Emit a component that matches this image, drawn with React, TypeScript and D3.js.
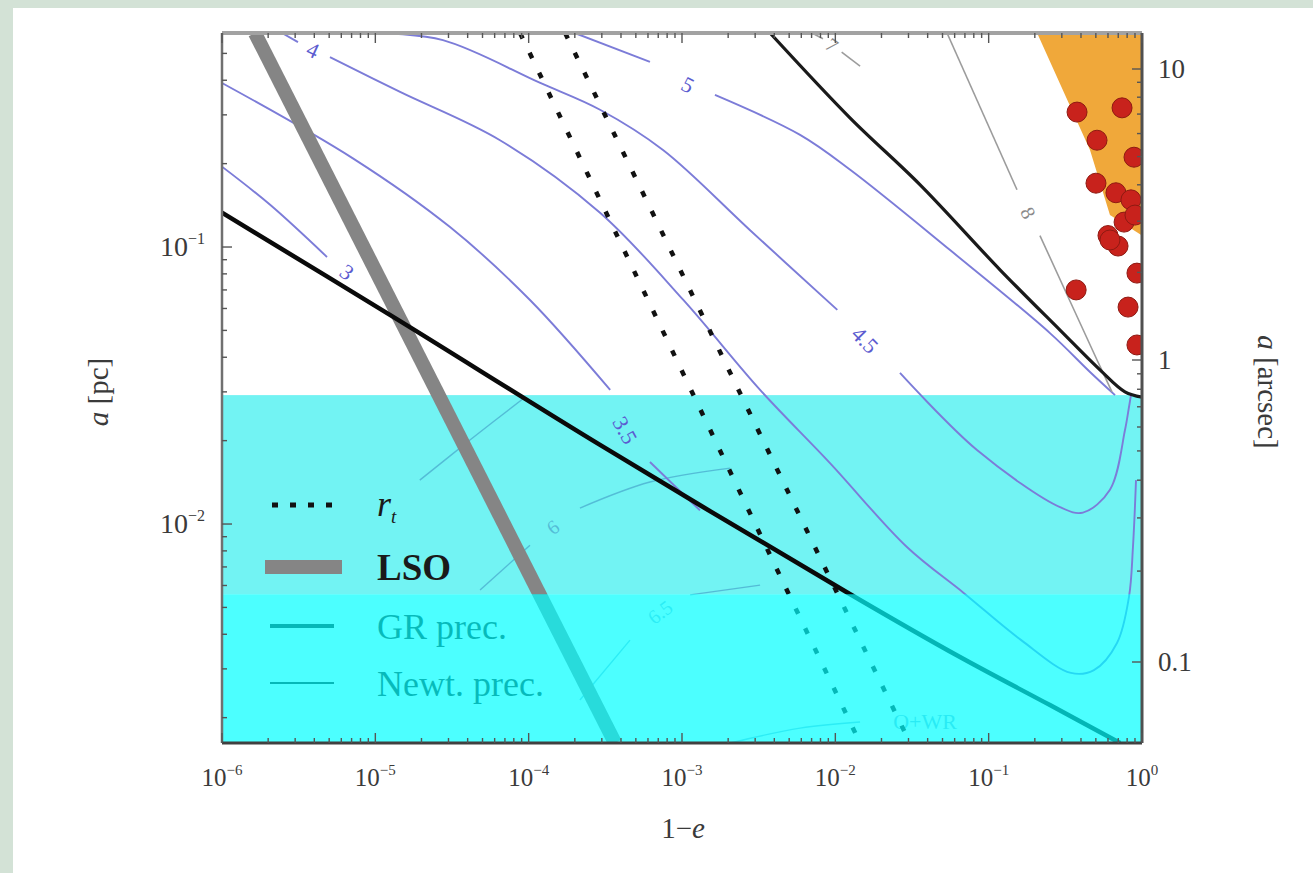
import React from "react";
import * as d3 from "d3";

type P = [number, number];

const W = 1313;
const H = 873;

// ---------- axes ----------
const xDomain: P = [1e-6, 1];
const yDomain: P = [0.00162, 0.5924];
const xTickExps = [-6, -5, -4, -3, -2, -1, 0];
const yTickExps = [-1, -2];
const arcsecTicks = [10, 1, 0.1];
const arcsecTickLabels = ["10", "1", "0.1"];
const arcsecMinor = [0.2, 0.3, 0.4, 0.5, 0.6, 0.7, 0.8, 0.9, 2, 3, 4, 5, 6, 7, 8, 9];

// ---------- shaded bands (a in pc) ----------
const outerBandTop = 0.0292;
const innerBandTop = 0.00558;

// ---------- curves: [1-e, a(pc)] ----------
const lso: P[] = [[1.64e-6, 0.5924], [3.66e-4, 0.00162]];
const rtLeft: P[] = [[8.79e-5, 0.5924], [1.45e-2, 0.00162]];
const rtRight: P[] = [[1.73e-4, 0.5924], [3.07e-2, 0.00162]];

const grLower: P[] = [
  [1e-6, 0.133], [1.34e-5, 0.0555], [2.92e-4, 0.0193], [1.25e-2, 0.00558],
  [6.5e-2, 0.00331], [0.251, 0.00222], [0.72, 0.00162],
];
const grUpper: P[] = [
  [3.75e-3, 0.5924], [1.25e-2, 0.292], [3.56e-2, 0.168], [0.119, 0.0826],
  [0.292, 0.0501], [0.532, 0.036], [0.774, 0.03], [1, 0.0287],
];

// blue contours (split at their labels)
const c3A: P[] = [[1e-6, 0.195], [2.06e-6, 0.142], [4.84e-6, 0.092]];
const c3B: P[] = [];
const c3Label: P = [6.53e-6, 0.0812];

const c35A: P[] = [[1e-6, 0.391], [7.14e-6, 0.209], [3.07e-5, 0.118], [1.02e-4, 0.0644], [3.4e-4, 0.0305]];
const c35B: P[] = [[6.18e-4, 0.01675], [1.31e-3, 0.0112]];
const c35Label: P = [4.25e-4, 0.0218];

const c4A: P[] = [[2.46e-6, 0.5924], [3.13e-6, 0.549]];
const c4B: P[] = [
  [5.06e-6, 0.485], [1.45e-5, 0.363], [6.5e-5, 0.243], [2.92e-4, 0.133], [1.02e-3, 0.0644],
  [3.23e-3, 0.0305], [9.23e-3, 0.0166], [2.93e-2, 0.00826], [6.9e-2, 0.00563], [0.163, 0.00381],
  [0.344, 0.0029], [0.486, 0.00297], [0.687, 0.00372], [0.822, 0.00545], [0.873, 0.00826], [0.914, 0.0144],
];
const c4Label: P = [3.92e-6, 0.514];

const c45A: P[] = [
  [1.07e-5, 0.5924], [2.76e-5, 0.558], [1.19e-4, 0.391], [2.92e-4, 0.313], [7.52e-4, 0.224],
  [2.78e-3, 0.115], [1.03e-2, 0.0593],
];
const c45B: P[] = [
  [2.64e-2, 0.0351], [8.39e-2, 0.0185], [0.292, 0.0115], [0.412, 0.011], [0.618, 0.0133],
  [0.774, 0.0218], [0.822, 0.0264], [0.847, 0.0292],
];
const c45Label: P = [1.56e-2, 0.0462];

const c5A: P[] = [[2.0e-4, 0.5924], [6.18e-4, 0.466]];
const c5B: P[] = [
  [1.64e-3, 0.354], [5.89e-3, 0.254], [1.25e-2, 0.19], [5.6e-2, 0.0975], [0.251, 0.0489],
  [0.458, 0.0354], [0.667, 0.0292],
];
const c5Label: P = [1.09e-3, 0.385];

// gray contours
const g8A: P[] = [[5.35e-2, 0.5924], [0.153, 0.161]];
const g8B: P[] = [[0.216, 0.11], [0.509, 0.0391], [0.637, 0.03]];
const g8Label: P = [0.181, 0.133];

const g7A: P[] = [[7.05e-3, 0.5924], [8.3e-3, 0.565]];
const g7B: P[] = [[1.1e-2, 0.505], [1.45e-2, 0.45]];
const g7Label: P = [9.51e-3, 0.536];

// faint contours inside the shaded bands
const f1: P[] = [[1.95e-5, 0.0144], [4.14e-5, 0.0201], [9.46e-5, 0.0287]];
const f6A: P[] = [[4.82e-5, 0.00578], [1.02e-4, 0.00839]];
const f6B: P[] = [[2.16e-4, 0.01142], [6.18e-4, 0.01418], [2.06e-3, 0.01592]];
const f6Label: P = [1.44e-4, 0.00975];
const f65A: P[] = [[2.16e-4, 0.002317], [4.58e-4, 0.00381]];
const f65B: P[] = [[1.13e-3, 0.00555], [3.23e-3, 0.00602]];
const f65Label: P = [7.2e-4, 0.00481];
const fOWR: P[] = [[2.06e-3, 0.00162], [5.89e-3, 0.001834], [1.45e-2, 0.00193]];
const fOWRLabel: P = [0.0385, 0.00193];

// observed stars region and points
const orangeRegion: P[] = [
  [0.207, 0.5924], [1, 0.5924], [1, 0.11], [0.618, 0.1304], [0.458, 0.224], [0.315, 0.354],
];
const starsE = [0.377, 0.741, 0.509, 0.887, 0.501, 0.676, 0.847, 0.764, 0.6, 0.698, 0.618, 0.927, 0.372, 0.811, 0.927, 0.9];
const starsA = [0.307, 0.318, 0.243, 0.211, 0.17, 0.157, 0.148, 0.123, 0.11, 0.1008, 0.106, 0.0805, 0.07, 0.0607, 0.0443, 0.1304];

// legend
const legendLabels = ["LSO", "GR prec.", "Newt. prec."];

// ---------- scales ----------
const x = d3.scaleLog().domain(xDomain).range([222, 1142]);
const y = d3.scaleLog().domain(yDomain).range([743, 33]);
const yArc = d3.scaleLog().domain([10, 1, 0.1]).range([69, 360, 662]);

const smooth = d3.line<P>().x((d) => x(d[0])).y((d) => y(d[1])).curve(d3.curveCatmullRom.alpha(0.5));
const straight = d3.line<P>().x((d) => x(d[0])).y((d) => y(d[1]));

function angleBetween(a: P, b: P) {
  return (Math.atan2(y(b[1]) - y(a[1]), x(b[0]) - x(a[0])) * 180) / Math.PI;
}

function Contour(props: { a: P[]; b: P[]; at: P; text: string; color: string; labelColor: string; width: number; size: number; opacity?: number }) {
  const { a, b, at, text, color, labelColor, width, size, opacity = 1 } = props;
  const prev = a[a.length - 1];
  const next = b.length ? b[0] : at;
  let ang = angleBetween(prev, next);
  if (ang > 90) ang -= 180;
  if (ang < -90) ang += 180;
  return (
    <g opacity={opacity}>
      <path d={smooth(a) || ""} fill="none" stroke={color} strokeWidth={width} />
      {b.length > 1 && <path d={smooth(b) || ""} fill="none" stroke={color} strokeWidth={width} />}
      <text
        transform={`translate(${x(at[0])},${y(at[1])}) rotate(${ang})`}
        textAnchor="middle"
        dominantBaseline="central"
        fontFamily="Liberation Serif, serif"
        fontSize={size}
        fill={labelColor}
      >
        {text}
      </text>
    </g>
  );
}

export default function App() {
  const [x0, x1] = x.range();
  const [y0, y1] = [y(yDomain[1]), y(yDomain[0])];
  const blue = "#7c7cd8";
  const blueLab = "#5c5cd0";
  const gray = "#9c9c9c";
  const faint = "#3b8fc0";

  const xMinor: number[] = [];
  for (let e = -6; e < 0; e++) for (let m = 2; m <= 9; m++) xMinor.push(m * Math.pow(10, e));
  const yMinor: number[] = [];
  for (let e = -3; e < 0; e++) for (let m = 2; m <= 9; m++) {
    const v = m * Math.pow(10, e);
    if (v > yDomain[0] && v < yDomain[1]) yMinor.push(v);
  }
  const font = "Liberation Serif, DejaVu Serif, serif";

  return (
    <div style={{ position: "absolute", left: 0, top: 0 }}>
      <svg width={W} height={H} style={{ display: "block" }}>
        <defs>
          <clipPath id="plot">
            <rect x={x0} y={y0} width={x1 - x0} height={y1 - y0} />
          </clipPath>
        </defs>
        <rect x={0} y={0} width={W} height={H} fill="#d3e2d6" />
        <rect x={13} y={8} width={W - 13} height={H - 8} fill="#ffffff" />

        {/* outer shaded band (beneath lines) */}
        <rect x={x0} y={y(outerBandTop)} width={x1 - x0} height={y(innerBandTop) - y(outerBandTop)} fill="#72f3f3" />

        <g clipPath="url(#plot)">
          <path d={straight(orangeRegion) + "Z"} fill="#f0a83a" />

          {/* faint contours inside bands */}
          <path d={smooth(f1) || ""} fill="none" stroke={faint} strokeWidth={1.4} opacity={0.55} />
          <Contour a={f6A} b={f6B} at={f6Label} text="6" color={faint} labelColor={faint} width={1.4} size={20} opacity={0.55} />
          <Contour a={f65A} b={f65B} at={f65Label} text="6.5" color={faint} labelColor={faint} width={1.4} size={20} opacity={0.55} />
          <path d={smooth(fOWR) || ""} fill="none" stroke={faint} strokeWidth={1.4} opacity={0.55} />
          <text x={x(fOWRLabel[0])} y={y(fOWRLabel[1])} textAnchor="middle" dominantBaseline="central" fontFamily={font} fontSize={22} fill={faint} opacity={0.6}>
            O+WR
          </text>

          {/* blue contours */}
          <Contour a={c3A} b={c3B} at={c3Label} text="3" color={blue} labelColor={blueLab} width={1.9} size={22} />
          <Contour a={c35A} b={c35B} at={c35Label} text="3.5" color={blue} labelColor={blueLab} width={1.9} size={22} />
          <Contour a={c4A} b={c4B} at={c4Label} text="4" color={blue} labelColor={blueLab} width={1.9} size={22} />
          <Contour a={c45A} b={c45B} at={c45Label} text="4.5" color={blue} labelColor={blueLab} width={1.9} size={22} />
          <Contour a={c5A} b={c5B} at={c5Label} text="5" color={blue} labelColor={blueLab} width={1.9} size={22} />

          {/* gray contours */}
          <Contour a={g8A} b={g8B} at={g8Label} text="8" color={gray} labelColor="#8a8a8a" width={1.6} size={20} />
          <Contour a={g7A} b={g7B} at={g7Label} text="7" color={gray} labelColor="#8a8a8a" width={1.6} size={20} />

          {/* LSO */}
          <path d={straight(lso) || ""} fill="none" stroke="#858585" strokeWidth={14} />

          {/* tidal radius dotted lines */}
          <path d={straight(rtLeft) || ""} fill="none" stroke="#111" strokeWidth={4.5} strokeDasharray="6 16" />
          <path d={straight(rtRight) || ""} fill="none" stroke="#111" strokeWidth={4.5} strokeDasharray="6 16" />

          {/* GR precession curves */}
          <path d={smooth(grUpper) || ""} fill="none" stroke="#1a1a1a" strokeWidth={3.2} />
          <path d={smooth(grLower) || ""} fill="none" stroke="#0a0a0a" strokeWidth={4.5} />

          {/* stars */}
          {starsE.map((e, i) => (
            <circle key={i} cx={x(e)} cy={y(starsA[i])} r={10} fill="#c8221c" stroke="#8e1a12" strokeWidth={1} />
          ))}
        </g>

        {/* legend */}
        <g fontFamily={font} fill="#1a1a1a">
          <line x1={272} x2={338} y1={505} y2={505} stroke="#111" strokeWidth={5} strokeDasharray="6 12" />
          <text x={377} y={516} fontSize={36} fontStyle="italic">
            r<tspan fontSize={19} dy={7}>t</tspan>
          </text>
          <line x1={265} x2={342} y1={567} y2={567} stroke="#858585" strokeWidth={14} />
          <text x={377} y={580} fontSize={37} fontWeight="bold">{legendLabels[0]}</text>
          <line x1={270} x2={334} y1={626} y2={626} stroke="#111" strokeWidth={4} />
          <text x={377} y={639} fontSize={36}>{legendLabels[1]}</text>
          <line x1={270} x2={334} y1={683} y2={683} stroke="#111" strokeWidth={2} />
          <text x={377} y={696} fontSize={36}>{legendLabels[2]}</text>
        </g>

        {/* inner shaded band drawn on top */}
        <rect x={x0} y={y(innerBandTop)} width={x1 - x0} height={y1 - y(innerBandTop)} fill="#00ffff" opacity={0.7} />

        {/* frame */}
        <line x1={x0} x2={x1} y1={y0} y2={y0} stroke="#a2a2a2" strokeWidth={4} />
        <line x1={x0} x2={x0} y1={y0} y2={y1} stroke="#707070" strokeWidth={2.5} />
        <line x1={x1} x2={x1} y1={y0} y2={y1} stroke="#505050" strokeWidth={3} />
        <line x1={x0} x2={x1} y1={y1} y2={y1} stroke="#404040" strokeWidth={3} />

        {/* ticks */}
        <g stroke="#555" strokeWidth={1.4}>
          {xTickExps.map((e) => (
            <g key={"xt" + e}>
              <line x1={x(Math.pow(10, e))} x2={x(Math.pow(10, e))} y1={y1} y2={y1 - 10} />
              <line x1={x(Math.pow(10, e))} x2={x(Math.pow(10, e))} y1={y0} y2={y0 + 10} />
            </g>
          ))}
          {xMinor.map((v, i) => (
            <g key={"xm" + i}>
              <line x1={x(v)} x2={x(v)} y1={y1} y2={y1 - 5} />
              <line x1={x(v)} x2={x(v)} y1={y0} y2={y0 + 5} />
            </g>
          ))}
          {yTickExps.map((e) => (
            <line key={"yt" + e} x1={x0} x2={x0 + 10} y1={y(Math.pow(10, e))} y2={y(Math.pow(10, e))} />
          ))}
          {yMinor.map((v, i) => (
            <line key={"ym" + i} x1={x0} x2={x0 + 5} y1={y(v)} y2={y(v)} />
          ))}
          {arcsecTicks.map((v) => (
            <line key={"at" + v} x1={x1} x2={x1 - 10} y1={yArc(v)} y2={yArc(v)} />
          ))}
          {arcsecMinor.map((v) => (
            <line key={"am" + v} x1={x1} x2={x1 - 5} y1={yArc(v)} y2={yArc(v)} />
          ))}
        </g>

        {/* tick labels */}
        <g fontFamily={font} fill="#3a3a3a">
          {xTickExps.map((e) => (
            <text key={"xl" + e} x={x(Math.pow(10, e))} y={786} fontSize={25} textAnchor="middle">
              10<tspan fontSize={15} dy={-11}>{e === 0 ? "0" : "\u2212" + Math.abs(e)}</tspan>
            </text>
          ))}
          {yTickExps.map((e) => (
            <text key={"yl" + e} x={205} y={y(Math.pow(10, e)) + 9} fontSize={28} textAnchor="end">
              10<tspan fontSize={16} dy={-12}>{"\u2212" + Math.abs(e)}</tspan>
            </text>
          ))}
          {arcsecTicks.map((v, i) => (
            <text key={"al" + v} x={1158} y={yArc(v) + 9} fontSize={27} textAnchor="start">
              {arcsecTickLabels[i]}
            </text>
          ))}
        </g>

        {/* axis titles */}
        <g fontFamily={font} fill="#3a3a3a" fontSize={29}>
          <text x={683} y={838} textAnchor="middle">1{"\u2212"}<tspan fontStyle="italic">e</tspan></text>
          <text transform="translate(108,392) rotate(-90)" textAnchor="middle">
            <tspan fontStyle="italic">a</tspan> [pc]
          </text>
          <text transform="translate(1258,392) rotate(90)" textAnchor="middle">
            <tspan fontStyle="italic">a</tspan> [arcsec]
          </text>
        </g>
      </svg>
    </div>
  );
}
